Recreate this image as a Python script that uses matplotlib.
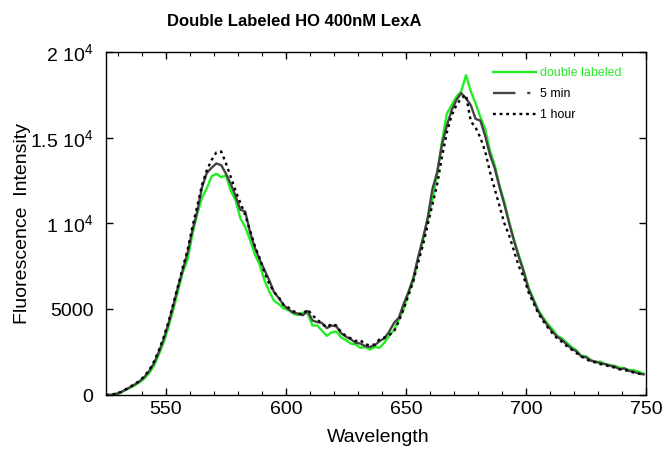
import numpy as np
import matplotlib
matplotlib.use("Agg")
import matplotlib.pyplot as plt
from matplotlib.lines import Line2D
from matplotlib.ticker import FixedLocator, MultipleLocator

plt.rcParams['font.family'] = ['Liberation Sans', 'DejaVu Sans']
plt.rcParams['mathtext.fontset'] = 'custom'
plt.rcParams['mathtext.rm'] = 'Liberation Sans'
plt.rcParams['mathtext.it'] = 'Liberation Sans'
plt.rcParams['mathtext.bf'] = 'Liberation Sans:bold'
plt.rcParams['mathtext.default'] = 'regular'

title = "Double Labeled HO 400nM LexA"
xlabel = "Wavelength"
ylabel = "Fluorescence  Intensity"
series_labels = ["double labeled", "5 min", "1 hour"]

wavelength = np.arange(525, 750, 2)

double_labeled = [
    0, 0, 40, 130, 280, 420, 560, 740, 960, 1280,
    1700, 2350, 3050, 3950, 4950, 6050, 7150, 7900, 9350, 10550,
    11500, 12050, 12750, 12900, 12700, 12800, 11900, 11350, 10300, 9800,
    9050, 8200, 7600, 6700, 6050, 5500, 5300, 5050, 4950, 4750,
    4650, 4800, 4750, 4050, 4050, 3750, 3450, 3650, 3700, 3350,
    3200, 3000, 2950, 2750, 2800, 2650, 2800, 2750, 3050, 3450,
    3800, 4400, 5000, 5950, 6650, 7950, 9000, 10250, 11350, 12900,
    14800, 16400, 16900, 17400, 17700, 18650, 17700, 17000, 16200, 15500,
    14250, 13400, 12200, 11250, 10100, 9050, 8150, 7300, 6300, 5650,
    5000, 4550, 4150, 3850, 3450, 3300, 3050, 2800, 2600, 2300,
    2250, 2050, 1900, 1950, 1800, 1750, 1700, 1600, 1550, 1450,
    1450, 1350, 1250,
]

five_min = [
    0, 10, 60, 150, 300, 450, 620, 800, 1050, 1400,
    1850, 2500, 3250, 4150, 5200, 6300, 7300, 8300, 9600, 10700,
    12100, 12950, 13250, 13500, 13400, 12900, 12300, 11600, 10800, 10700,
    9500, 8600, 7900, 7300, 6700, 6000, 5650, 5250, 5000, 4800,
    4750, 4650, 4900, 4350, 4250, 4200, 3900, 4050, 4000, 3600,
    3400, 3250, 3050, 3000, 2850, 2800, 2900, 3150, 3300, 3700,
    4200, 4500, 5300, 6000, 6800, 8000, 9100, 10300, 12000, 13000,
    14600, 15700, 16600, 17200, 17600, 17300, 16900, 16100, 16000, 15100,
    14000, 13200, 12100, 11100, 10000, 9000, 8050, 7200, 6200, 5550,
    4900, 4450, 4050, 3700, 3400, 3200, 2950, 2700, 2550, 2250,
    2200, 2000, 1950, 1850, 1800, 1700, 1650, 1500, 1550, 1400,
    1350, 1250, 1200,
]

one_hour = [
    0, 20, 70, 160, 310, 470, 650, 820, 1100, 1450,
    1950, 2600, 3350, 4250, 5300, 6350, 7450, 8450, 9800, 11000,
    12250, 13100, 13700, 14150, 14200, 13500, 12700, 11900, 11200, 10500,
    9600, 8700, 8000, 7150, 6500, 6000, 5700, 5250, 5100, 4900,
    4750, 4700, 5000, 4650, 4400, 4150, 3950, 4150, 4050, 3650,
    3450, 3300, 3150, 3200, 2950, 2900, 2950, 3250, 3350, 3500,
    3700, 4300, 5000, 5800, 6600, 7700, 8700, 9900, 11100, 12300,
    13900, 15300, 16300, 16900, 17300, 17500, 15950, 15600, 15000, 14200,
    13000, 12000, 11000, 10000, 9300, 8400, 7500, 6900, 6000, 5400,
    4800, 4350, 3950, 3600, 3300, 3100, 2850, 2650, 2450, 2250,
    2100, 1950, 1900, 1800, 1750, 1650, 1600, 1500, 1450, 1400,
    1300, 1250, 1150,
]

y_ticks = [0, 5000, 10000, 15000, 20000]
y_tick_labels = ["0", "5000", "1 10$^{4}$", "1.5 10$^{4}$", "2 10$^{4}$"]
x_ticks = [550, 600, 650, 700, 750]

W, H = 669, 459
fig = plt.figure(figsize=(W / 100, H / 100), dpi=100)
ax = fig.add_axes([106 / W, 1 - 395 / H, 540 / W, 343 / H])

green = "#22ee22"
dark = "#444444"
ax.plot(wavelength, double_labeled, color=green, lw=1.7, zorder=2)
ax.plot(wavelength, five_min, color=dark, lw=1.7, zorder=3)
ax.plot(wavelength, one_hour, color="black", lw=1.7, linestyle=(0, (1.2, 1.6)), zorder=4)

ax.set_xlim(525, 750)
ax.set_ylim(0, 20000)
ax.xaxis.set_major_locator(FixedLocator(x_ticks))
ax.xaxis.set_minor_locator(MultipleLocator(10))
ax.yaxis.set_major_locator(FixedLocator(y_ticks))
ax.set_yticklabels(y_tick_labels)
ax.tick_params(axis='both', which='major', direction='in', length=5, width=1,
               top=True, right=True, labelsize=14, color='black')
ax.tick_params(axis='x', which='major', pad=4)
ax.tick_params(axis='y', which='major', pad=9)
ax.tick_params(axis='both', which='minor', direction='in', length=3, width=0.8,
               top=True, right=True)
for s in ax.spines.values():
    s.set_linewidth(1.0)

fig.text(294 / W, 1 - 22 / H, title, ha='center', va='center', fontsize=12, fontweight='bold')
fig.text(378 / W, 1 - 438 / H, xlabel, ha='center', va='center', fontsize=14)
fig.text(23 / W, 1 - 224 / H, ylabel, ha='center', va='center', fontsize=14, rotation=90)

handles = [
    Line2D([], [], color=green, lw=1.7),
    Line2D([], [], color=dark, lw=1.7, linestyle=(0, (9.5, 5.0, 1.3, 40))),
    Line2D([], [], color="black", lw=1.7, linestyle=(0, (1.2, 1.6))),
]
leg = fig.legend(handles, series_labels, loc='upper left',
                 bbox_to_anchor=(493 / W, 1 - 67 / H), bbox_transform=fig.transFigure,
                 frameon=False, fontsize=9, handlelength=3.4, handletextpad=0.35,
                 labelspacing=0.72, borderpad=0, borderaxespad=0)
leg.get_texts()[0].set_color(green)

fig.savefig("out.png", dpi=100)
